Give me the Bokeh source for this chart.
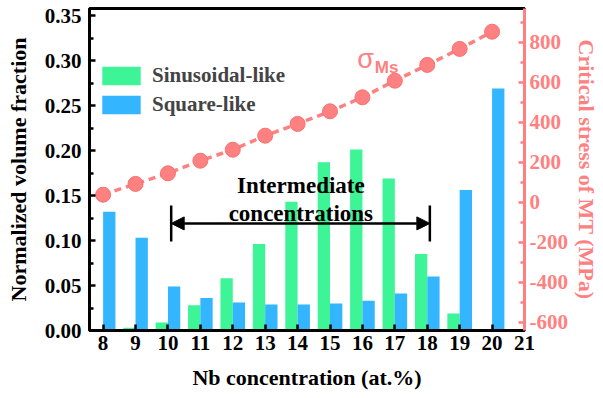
from bokeh.plotting import figure
from bokeh.models import (Range1d, LinearAxis, FixedTicker, Legend, LegendItem,
                          Arrow, NormalHead, ColumnDataSource, NumeralTickFormatter)
from bokeh.core.properties import value
from bokeh.transform import dodge
from bokeh.embed import file_html
from bokeh.resources import INLINE

# ---- data ----
nb = [8, 9, 10, 11, 12, 13, 14, 15, 16, 17, 18, 19, 20]
sinusoidal = [0.0, 0.003, 0.009, 0.028, 0.058, 0.096, 0.143, 0.187, 0.201, 0.169, 0.085, 0.019, 0.0]
square = [0.132, 0.103, 0.049, 0.036, 0.031, 0.029, 0.029, 0.030, 0.033, 0.041, 0.060, 0.156, 0.269]
sigma_ms = [38, 92, 145, 208, 263, 333, 392, 455, 525, 608, 687, 767, 853]

x_ticks = list(range(8, 22))
left_ticks = [0.0, 0.05, 0.10, 0.15, 0.20, 0.25, 0.30, 0.35]
left_minor = [0.025, 0.075, 0.125, 0.175, 0.225, 0.275, 0.325]
right_ticks = [-600, -400, -200, 0, 200, 400, 600, 800]
right_tick_labels = ["-600", "-400", "-200", "0", "200", "400", "600", "800"]
right_minor = [-500, -300, -100, 100, 300, 500, 700, 900]

series_names = ["Sinusoidal-like", "Square-like"]
annotation_lines = ["Intermediate", "concentrations"]
interval = [10.1, 18.08]
arrow_y = 0.119
bar_y = [0.099, 0.139]
annot_x = 14.1
annot_y = [0.161, 0.130]
sigma_pos = (16.1, 0.302)
ms_pos = (16.38, 0.292)

GREEN = "#3DF496"
BLUE = "#33B5FF"
SALMON = "#FF8080"
FONT = "Liberation Serif"

src = ColumnDataSource(dict(nb=nb, sin=sinusoidal, sq=square, sig=sigma_ms))

p = figure(width=603, height=398, output_backend="svg", toolbar_location=None,
           x_range=Range1d(7.58, 21.0), y_range=Range1d(0, 0.3578),
           min_border_left=89, min_border_right=79, min_border_top=8, min_border_bottom=68)
p.extra_y_ranges = {"stress": Range1d(-641, 969)}
p.xgrid.visible = False
p.ygrid.visible = False
p.outline_line_color = "black"
p.outline_line_width = 3
p.background_fill_color = "white"
p.border_fill_color = "white"

g = p.vbar(x=dodge("nb", -0.19, range=p.x_range), top="sin", width=0.38, source=src,
           fill_color=GREEN, line_color=None)
b = p.vbar(x=dodge("nb", 0.19, range=p.x_range), top="sq", width=0.38, source=src,
           fill_color=BLUE, line_color=None)

p.line("nb", "sig", source=src, y_range_name="stress", line_color=SALMON,
       line_width=3.5, line_dash="7 5")
p.scatter("nb", "sig", source=src, y_range_name="stress", size=15,
          fill_color=SALMON, line_color="#F57272", line_width=1)

# interval annotation
p.add_layout(Arrow(start=NormalHead(size=13, fill_color="black", line_color="black"),
                   end=NormalHead(size=13, fill_color="black", line_color="black"),
                   x_start=interval[0], x_end=interval[1], y_start=arrow_y, y_end=arrow_y,
                   line_width=2.5, line_color="black"))
p.segment(x0=interval, x1=interval, y0=[bar_y[0]] * 2, y1=[bar_y[1]] * 2,
          line_color="black", line_width=2.5)
p.text(x=[annot_x] * 2, y=annot_y, text=annotation_lines, text_align="center",
       text_baseline="alphabetic", text_font=value(FONT), text_font_style="bold",
       text_font_size="23px", text_color="black")

# sigma label
p.text(x=[sigma_pos[0]], y=[sigma_pos[1]], text=["σ"], text_align="center",
       text_baseline="alphabetic", text_font=value("Liberation Sans"),
       text_font_size="27px", text_color=SALMON)
p.text(x=[ms_pos[0]], y=[ms_pos[1]], text=["Ms"], text_align="left",
       text_baseline="alphabetic", text_font=value("Liberation Sans"), text_font_style="bold",
       text_font_size="17px", text_color=SALMON)

legend = Legend(items=[LegendItem(label=series_names[0], renderers=[g]),
                       LegendItem(label=series_names[1], renderers=[b])],
                location=(8, 213), border_line_color=None, background_fill_alpha=0,
                glyph_width=48, glyph_height=23, label_height=23, spacing=4, padding=0,
                margin=0, label_standoff=7, label_text_font=FONT,
                label_text_font_style="bold", label_text_font_size="21px")
p.add_layout(legend)


def style_axis(ax, color, tick_size="21px"):
    ax.axis_line_color = color
    ax.axis_line_width = 3
    ax.major_tick_line_color = color
    ax.minor_tick_line_color = color
    ax.major_tick_line_width = 2.5
    ax.minor_tick_line_width = 2.5
    ax.major_tick_in = 6
    ax.major_tick_out = 0
    ax.minor_tick_in = 4
    ax.minor_tick_out = 0
    ax.major_label_text_font = FONT
    ax.major_label_text_font_style = "bold"
    ax.major_label_text_font_size = tick_size
    ax.major_label_text_color = color
    ax.axis_label_text_font = FONT
    ax.axis_label_text_font_style = "bold"
    ax.axis_label_text_font_size = "22px"
    ax.axis_label_text_color = color


xa = p.xaxis[0]
xa.ticker = FixedTicker(ticks=x_ticks, minor_ticks=[])
xa.axis_label = "Nb concentration (at.%)"
style_axis(xa, "black")
xa.major_label_standoff = 5
xa.axis_label_standoff = 12

ya = p.yaxis[0]
ya.ticker = FixedTicker(ticks=left_ticks, minor_ticks=left_minor)
ya.formatter = NumeralTickFormatter(format="0.00")
ya.axis_label = "Normalized volume fraction"
style_axis(ya, "black")
ya.major_label_standoff = 8
ya.axis_label_standoff = 11

ra = LinearAxis(y_range_name="stress", axis_label="Critical stress of MT (MPa)",
                ticker=FixedTicker(ticks=right_ticks, minor_ticks=right_minor))
ra.major_label_overrides = dict(zip(right_ticks, right_tick_labels))
style_axis(ra, SALMON)
ra.major_label_standoff = 5
ra.axis_label_standoff = 3
p.add_layout(ra, "right")

open("out.html", "w").write(file_html(p, INLINE))
